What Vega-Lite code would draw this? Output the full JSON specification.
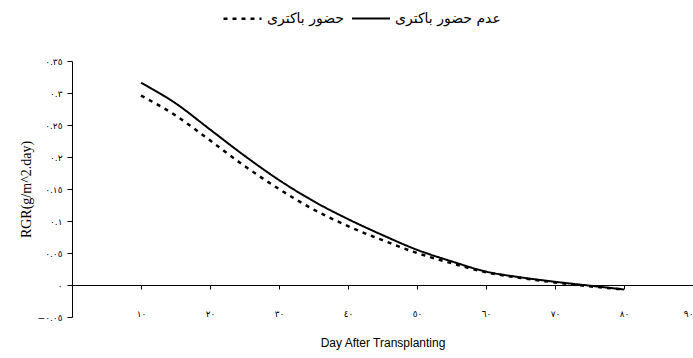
{
  "$schema": "https://vega.github.io/schema/vega-lite/v6.json",
  "width": 621,
  "height": 256,
  "autosize": "none",
  "padding": {"left": 72, "top": 61, "right": 0, "bottom": 41},
  "background": "white",
  "config": {
    "view": {"stroke": null},
    "font": "Liberation Serif",
    "axis": {"domainColor": "black", "tickColor": "black", "labelColor": "black", "titleColor": "black", "grid": false, "domainWidth": 1, "tickWidth": 1}
  },
  "data": {
    "values": [
      {"day": 10, "rgr": 0.316, "series": "عدم حضور باکتری"},
      {"day": 15, "rgr": 0.284, "series": "عدم حضور باکتری"},
      {"day": 20, "rgr": 0.243, "series": "عدم حضور باکتری"},
      {"day": 25, "rgr": 0.202, "series": "عدم حضور باکتری"},
      {"day": 30, "rgr": 0.164, "series": "عدم حضور باکتری"},
      {"day": 35, "rgr": 0.131, "series": "عدم حضور باکتری"},
      {"day": 40, "rgr": 0.103, "series": "عدم حضور باکتری"},
      {"day": 45, "rgr": 0.078, "series": "عدم حضور باکتری"},
      {"day": 50, "rgr": 0.055, "series": "عدم حضور باکتری"},
      {"day": 55, "rgr": 0.037, "series": "عدم حضور باکتری"},
      {"day": 60, "rgr": 0.021, "series": "عدم حضور باکتری"},
      {"day": 65, "rgr": 0.012, "series": "عدم حضور باکتری"},
      {"day": 70, "rgr": 0.005, "series": "عدم حضور باکتری"},
      {"day": 75, "rgr": -0.001, "series": "عدم حضور باکتری"},
      {"day": 80, "rgr": -0.007, "series": "عدم حضور باکتری"},
      {"day": 10, "rgr": 0.296, "series": "حضور باکتری"},
      {"day": 15, "rgr": 0.265, "series": "حضور باکتری"},
      {"day": 20, "rgr": 0.226, "series": "حضور باکتری"},
      {"day": 25, "rgr": 0.186, "series": "حضور باکتری"},
      {"day": 30, "rgr": 0.150, "series": "حضور باکتری"},
      {"day": 35, "rgr": 0.118, "series": "حضور باکتری"},
      {"day": 40, "rgr": 0.092, "series": "حضور باکتری"},
      {"day": 45, "rgr": 0.070, "series": "حضور باکتری"},
      {"day": 50, "rgr": 0.050, "series": "حضور باکتری"},
      {"day": 55, "rgr": 0.034, "series": "حضور باکتری"},
      {"day": 60, "rgr": 0.020, "series": "حضور باکتری"},
      {"day": 65, "rgr": 0.011, "series": "حضور باکتری"},
      {"day": 70, "rgr": 0.004, "series": "حضور باکتری"},
      {"day": 75, "rgr": -0.002, "series": "حضور باکتری"},
      {"day": 80, "rgr": -0.007, "series": "حضور باکتری"}
    ]
  },
  "mark": {"type": "line", "color": "black", "interpolate": "monotone"},
  "encoding": {
    "x": {
      "field": "day", "type": "quantitative",
      "scale": {"domain": [0, 90], "nice": false, "zero": false},
      "axis": {
        "title": "Day After Transplanting",
        "titleFont": "Liberation Sans", "titleFontSize": 12, "titleFontWeight": "normal",
        "titlePadding": 19,
        "values": [10, 20, 30, 40, 50, 60, 70, 80, 90],
        "offset": -32,
        "tickSize": 4,
        "labelPadding": 20,
        "labelFont": "DejaVu Sans", "labelFontSize": 9,
        "labelExpr": "replace(replace(replace(replace(replace(replace(replace(replace(replace(replace(datum.label,regexp('0','g'),'٠'),regexp('1','g'),'١'),regexp('2','g'),'٢'),regexp('3','g'),'٣'),regexp('4','g'),'٤'),regexp('5','g'),'٥'),regexp('6','g'),'٦'),regexp('7','g'),'٧'),regexp('8','g'),'٨'),regexp('9','g'),'٩')"
      }
    },
    "y": {
      "field": "rgr", "type": "quantitative",
      "scale": {"domain": [-0.05, 0.35], "nice": false, "zero": false},
      "axis": {
        "title": "RGR(g/m^2.day)",
        "titleFont": "Liberation Serif", "titleFontSize": 14, "titleFontWeight": "normal",
        "titlePadding": 4,
        "values": [-0.05, 0, 0.05, 0.1, 0.15, 0.2, 0.25, 0.3, 0.35],
        "format": ".2~f",
        "tickSize": 5,
        "labelPadding": 5,
        "labelFont": "DejaVu Sans", "labelFontSize": 9,
        "labelExpr": "replace(replace(replace(replace(replace(replace(replace(replace(replace(replace(datum.label,regexp('0','g'),'٠'),regexp('1','g'),'١'),regexp('2','g'),'٢'),regexp('3','g'),'٣'),regexp('4','g'),'٤'),regexp('5','g'),'٥'),regexp('6','g'),'٦'),regexp('7','g'),'٧'),regexp('8','g'),'٨'),regexp('9','g'),'٩')"
      }
    },
    "strokeDash": {
      "field": "series", "type": "nominal",
      "scale": {"domain": ["حضور باکتری", "عدم حضور باکتری"], "range": [[4, 5], [1, 0]]},
      "legend": {
        "title": null,
        "orient": "none",
        "direction": "horizontal",
        "legendX": 150,
        "legendY": -63,
        "symbolType": "stroke",
        "symbolSize": 1444,
        "symbolStrokeWidth": 2.5,
        "symbolStrokeColor": "black",
        "labelFont": "DejaVu Sans",
        "labelFontSize": 14,
        "labelColor": "black",
        "labelOffset": 4,
        "columnPadding": 4
      }
    },
    "strokeWidth": {
      "field": "series", "type": "nominal",
      "scale": {"domain": ["حضور باکتری", "عدم حضور باکتری"], "range": [2.5, 2]},
      "legend": null
    }
  }
}
